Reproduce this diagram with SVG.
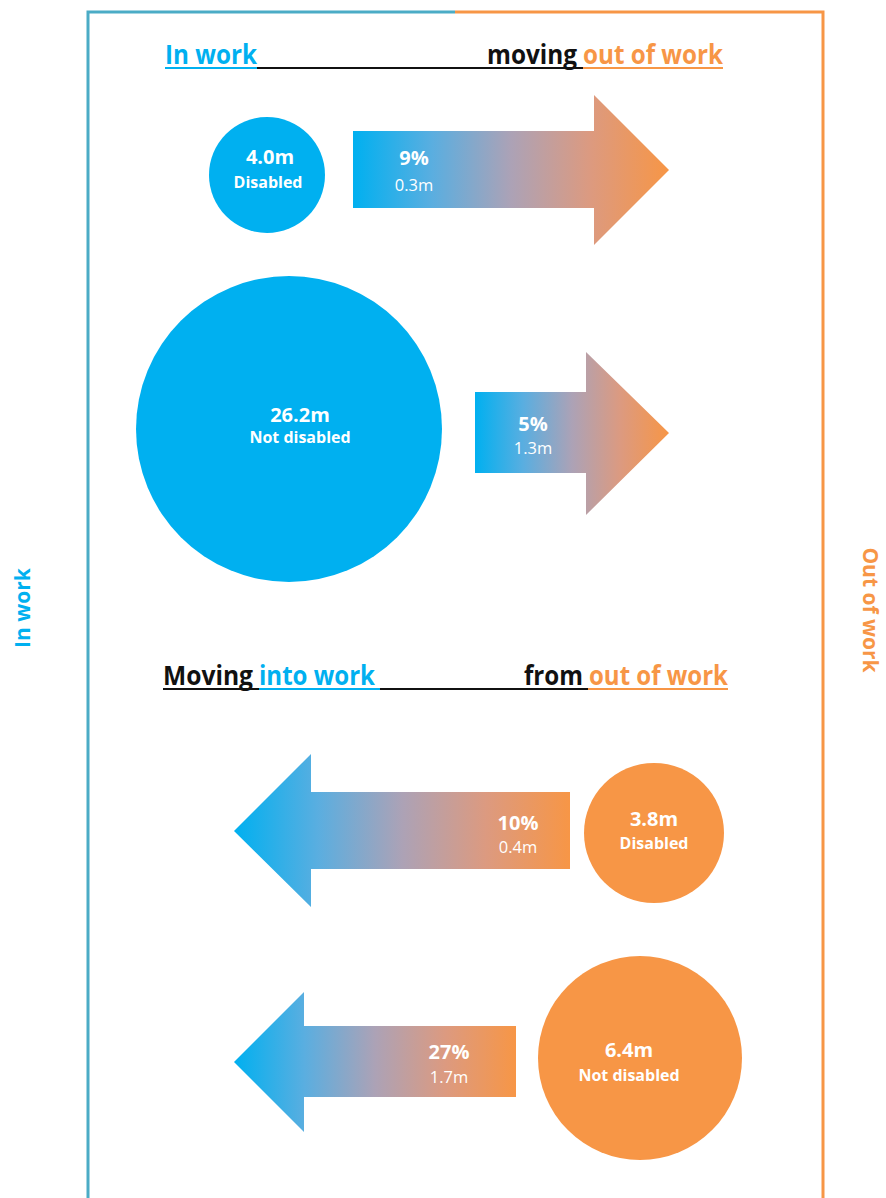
<svg xmlns="http://www.w3.org/2000/svg" width="886" height="1198" viewBox="0 0 886 1198">
<defs>
<linearGradient id="flow" x1="0" y1="0" x2="1" y2="0">
<stop offset="0" stop-color="#00b0f0"/>
<stop offset="0.25" stop-color="#5aaee0"/>
<stop offset="0.5" stop-color="#aca2b6"/>
<stop offset="0.75" stop-color="#dc9a80"/>
<stop offset="1" stop-color="#f79646"/>
</linearGradient>
<style>
.blue{fill:#00b0f0}
.orange{fill:#f79646}
.blk{fill:#111}
.hdr{font-family:"Open Sans","Liberation Sans",sans-serif;font-weight:bold;font-size:26px}
.big{font-family:"Open Sans","Liberation Sans",sans-serif;font-weight:bold;font-size:20px;fill:#fff;text-anchor:middle}
.sub{font-family:"Open Sans","Liberation Sans",sans-serif;font-weight:bold;font-size:16px;fill:#fff;text-anchor:middle}
.val{font-family:"Open Sans","Liberation Sans",sans-serif;font-size:16.5px;fill:#fff;text-anchor:middle}
.side{font-family:"Open Sans","Liberation Sans",sans-serif;font-weight:bold;font-size:21px;text-anchor:middle}
.arrow{fill:url(#flow)}
</style>
</defs>
<rect width="886" height="1198" fill="#fff"/>

<g id="frame" fill="none" stroke-width="3">
<path d="M88 1198 V12 H455" stroke="#4bacc6"/>
<path d="M455 12 H823 V1198" stroke="#f79646"/>
</g>

<g id="header-top">
<text class="hdr blue" x="165" y="64" textLength="92" lengthAdjust="spacingAndGlyphs">In work</text>
<text class="hdr blk" x="487" y="64" textLength="90" lengthAdjust="spacingAndGlyphs">moving</text>
<text class="hdr orange" x="583" y="64" textLength="140" lengthAdjust="spacingAndGlyphs">out of work</text>
<rect x="165" y="67" width="92" height="2" fill="#00b0f0"/>
<rect x="257" y="67" width="326" height="2" fill="#111"/>
<rect x="583" y="67" width="140" height="2" fill="#f79646"/>
</g>

<g id="header-bottom">
<text class="hdr blk" x="163" y="685" textLength="90" lengthAdjust="spacingAndGlyphs">Moving</text>
<text class="hdr blue" x="259" y="685" textLength="116" lengthAdjust="spacingAndGlyphs">into work</text>
<text class="hdr blk" x="524" y="685" textLength="59" lengthAdjust="spacingAndGlyphs">from</text>
<text class="hdr orange" x="589" y="685" textLength="139" lengthAdjust="spacingAndGlyphs">out of work</text>
<rect x="163" y="688" width="96" height="2" fill="#111"/>
<rect x="259" y="688" width="121" height="2" fill="#00b0f0"/>
<rect x="380" y="688" width="208" height="2" fill="#111"/>
<rect x="588" y="688" width="140" height="2" fill="#f79646"/>
</g>

<g id="side-in-work">
<text class="side blue" transform="translate(30 608) rotate(-90)">In work</text>
</g>
<g id="side-out-of-work">
<text class="side orange" transform="translate(863 610) rotate(90)">Out of work</text>
</g>

<g id="in-disabled">
<circle cx="267" cy="175" r="58" fill="#00b0f0"/>
<text class="big" x="270" y="164">4.0m</text>
<text class="sub" x="268" y="188">Disabled</text>
</g>

<g id="in-not-disabled">
<circle cx="289" cy="429" r="153" fill="#00b0f0"/>
<text class="big" x="300" y="422">26.2m</text>
<text class="sub" x="300" y="443">Not disabled</text>
</g>

<g id="out-disabled">
<circle cx="654" cy="833" r="70" fill="#f79646"/>
<text class="big" x="654" y="826">3.8m</text>
<text class="sub" x="654" y="849">Disabled</text>
</g>

<g id="out-not-disabled">
<circle cx="640" cy="1058" r="102" fill="#f79646"/>
<text class="big" x="629" y="1057">6.4m</text>
<text class="sub" x="629" y="1081">Not disabled</text>
</g>

<g id="connectors">
<g id="flow-1">
<path class="arrow" d="M353 131 H594 V95 L669 170 L594 245 V208 H353 Z"/>
<text class="big" x="414" y="165">9%</text>
<text class="val" x="414" y="191">0.3m</text>
</g>
<g id="flow-2">
<path class="arrow" d="M475 392 H586 V352 L669 433 L586 515 V473 H475 Z"/>
<text class="big" x="533" y="431">5%</text>
<text class="val" x="533" y="454">1.3m</text>
</g>
<g id="flow-3">
<path class="arrow" d="M234 831 L311 754 V792 H570 V869 H311 V907 Z"/>
<text class="big" x="518" y="830">10%</text>
<text class="val" x="518" y="853">0.4m</text>
</g>
<g id="flow-4">
<path class="arrow" d="M234 1062 L304 992 V1026 H516 V1097 H304 V1132 Z"/>
<text class="big" x="449" y="1059">27%</text>
<text class="val" x="449" y="1083">1.7m</text>
</g>
</g>
</svg>
